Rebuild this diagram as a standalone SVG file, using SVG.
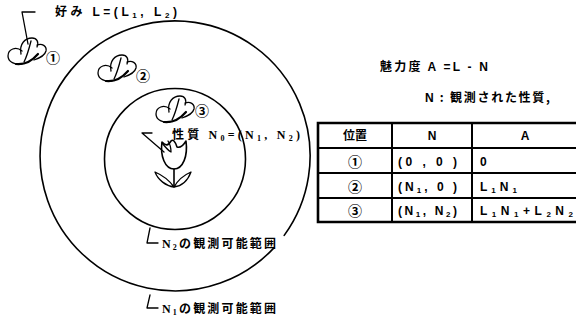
<svg xmlns="http://www.w3.org/2000/svg" width="576" height="321" viewBox="0 0 576 321">
  <style>
    .ln { fill: none; stroke: #000; stroke-width: 1.6; stroke-linecap: round; stroke-linejoin: round; }
    .thin { fill: none; stroke: #000; stroke-width: 1.3; stroke-linecap: round; stroke-linejoin: round; }
    .jp { font-family: "Noto Sans CJK JP", "Noto Sans", sans-serif; font-weight: bold; font-size: 12px; fill: #000; }
    .lat { font-family: "Liberation Sans", "DejaVu Sans", sans-serif; font-weight: bold; }
    .ser { font-family: "Liberation Serif", "DejaVu Serif", serif; font-weight: bold; }
    .num { font-family: "Noto Sans CJK JP", sans-serif; font-weight: bold; font-size: 14px; fill: #000; }
    .sub { font-size: 8px; }
    .tb { fill: none; stroke: #000; stroke-width: 2; }
    .tbo { fill: none; stroke: #000; stroke-width: 2.6; }
  </style>
  <defs>
    <!-- butterfly glyph, local box about 40 x 29 -->
    <g id="butterfly">
      <path class="thin" d="M15,14 C9,9 1,12 1,19 C1,25 8,28 15,27"/>
      <path class="thin" d="M14,17 C12,7 18,1 25,1 C30,1 32,5 30,10"/>
      <path class="thin" d="M30,8 C35,6 40,9 39,14 C38,18 33,21 27,23"/>
      <path class="thin" d="M24,4 C22,12 20,19 17,25"/>
      <path fill="none" stroke="#000" stroke-width="2.2" stroke-linecap="round" d="M9,27 C18,28 25,24 31,17"/>
    </g>
  </defs>

  <!-- observable ranges -->
  <g id="range-n1">
    <path class="ln" d="M273.7,248.1 A135,135 0 1 1 284.2,235.4"/>
  </g>
  <g id="range-n2">
    <circle class="ln" cx="175" cy="159" r="70.5"/>
  </g>

  <!-- butterflies at the three positions -->
  <g id="pos1">
    <use href="#butterfly" x="7" y="37"/>
    <text class="num" x="53" y="63" text-anchor="middle">①</text>
  </g>
  <g id="pos2">
    <use href="#butterfly" x="97" y="54"/>
    <text class="num" x="143" y="81" text-anchor="middle">②</text>
  </g>
  <g id="pos3">
    <use href="#butterfly" x="155" y="95"/>
    <text class="num" x="202" y="116" text-anchor="middle">③</text>
  </g>

  <!-- tulip -->
  <g id="tulip">
    <path class="ln" d="M162,142 C160,156 165,169 174,169 C183,169 188,156 186,141 C183,146 180,148 177,147 C175,141 173,139 171,141 C168,146 166,146 162,142 Z"/>
    <path class="thin" d="M162,143 C166,148 169,151 171,152 C171,148 170,144 168,141"/>
    <path class="ln" d="M174,169 V186"/>
    <path class="thin" d="M174,187 C166,186 158,180 155,172 C162,175 169,180 174,187 Z"/>
    <path class="thin" d="M174,187 C182,186 188,180 191,172 C184,175 178,180 174,187 Z"/>
  </g>

  <!-- leader lines -->
  <g id="connectors">
    <path class="thin" d="M35,12 H22 L28,44"/>
    <path class="thin" d="M152,133 H142 L164,152"/>
    <path class="thin" d="M150,228 L147,243 H158"/>
    <path class="thin" d="M150,295 L147,308 H158"/>
  </g>

  <!-- labels -->
  <g id="label-preference">
    <text class="jp" x="55" y="16" textLength="122" lengthAdjust="spacing">好み <tspan class="lat">L=(L<tspan class="sub" dy="2">1</tspan><tspan dy="-2">, L</tspan><tspan class="sub" dy="2">2</tspan><tspan dy="-2">)</tspan></tspan></text>
  </g>
  <g id="label-property">
    <text class="jp" x="172" y="139" textLength="128" lengthAdjust="spacing">性質 <tspan class="ser">N<tspan class="sub" dy="2">0</tspan><tspan dy="-2">=(N</tspan><tspan class="sub" dy="2">1</tspan><tspan dy="-2">, N</tspan><tspan class="sub" dy="2">2</tspan><tspan dy="-2">)</tspan></tspan></text>
  </g>
  <g id="label-n2">
    <text class="jp" x="162" y="248" textLength="114" lengthAdjust="spacing"><tspan class="ser">N</tspan><tspan class="ser sub" dy="2">2</tspan><tspan dy="-2">の観測可能範囲</tspan></text>
  </g>
  <g id="label-n1">
    <text class="jp" x="162" y="313" textLength="114" lengthAdjust="spacing"><tspan class="ser">N</tspan><tspan class="ser sub" dy="2">1</tspan><tspan dy="-2">の観測可能範囲</tspan></text>
  </g>
  <g id="label-attraction">
    <text class="jp" x="380" y="71" textLength="108" lengthAdjust="spacing">魅力度 <tspan class="lat">A =L - N</tspan></text>
  </g>
  <g id="label-legend">
    <text class="jp" x="425" y="102" textLength="125" lengthAdjust="spacing"><tspan class="lat">N</tspan> : 観測された性質,</text>
  </g>

  <!-- table -->
  <g id="table">
    <path class="tbo" d="M580,123 H318 V222 H580"/>
    <path class="tb" d="M318,148 H580 M318,173 H580 M318,198 H580 M392,123 V222 M472,123 V222"/>
    <g class="jp">
      <text x="355" y="140" text-anchor="middle">位置</text>
      <text class="lat" x="432" y="140" text-anchor="middle">N</text>
      <text class="lat" x="525" y="140" text-anchor="middle">A</text>

      <text class="num" x="355" y="167" text-anchor="middle" font-size="13">①</text>
      <text class="lat" x="398" y="166" textLength="59" lengthAdjust="spacing">(0 , 0 )</text>
      <text class="lat" x="480" y="166">0</text>

      <text class="num" x="355" y="192" text-anchor="middle" font-size="13">②</text>
      <text class="lat" x="398" y="191" textLength="59" lengthAdjust="spacing">(N<tspan class="sub" dy="2">1</tspan><tspan dy="-2">, 0 )</tspan></text>
      <text class="lat" x="480" y="191" textLength="37" lengthAdjust="spacing">L<tspan class="sub" dy="2">1</tspan><tspan dy="-2">N</tspan><tspan class="sub" dy="2">1</tspan></text>

      <text class="num" x="355" y="216" text-anchor="middle" font-size="13">③</text>
      <text class="lat" x="398" y="215" textLength="59" lengthAdjust="spacing">(N<tspan class="sub" dy="2">1</tspan><tspan dy="-2">, N</tspan><tspan class="sub" dy="2">2</tspan><tspan dy="-2">)</tspan></text>
      <text class="lat" x="480" y="215" textLength="93" lengthAdjust="spacing">L<tspan class="sub" dy="2">1</tspan><tspan dy="-2">N</tspan><tspan class="sub" dy="2">1</tspan><tspan dy="-2">+L</tspan><tspan class="sub" dy="2">2</tspan><tspan dy="-2">N</tspan><tspan class="sub" dy="2">2</tspan></text>
    </g>
  </g>
</svg>
